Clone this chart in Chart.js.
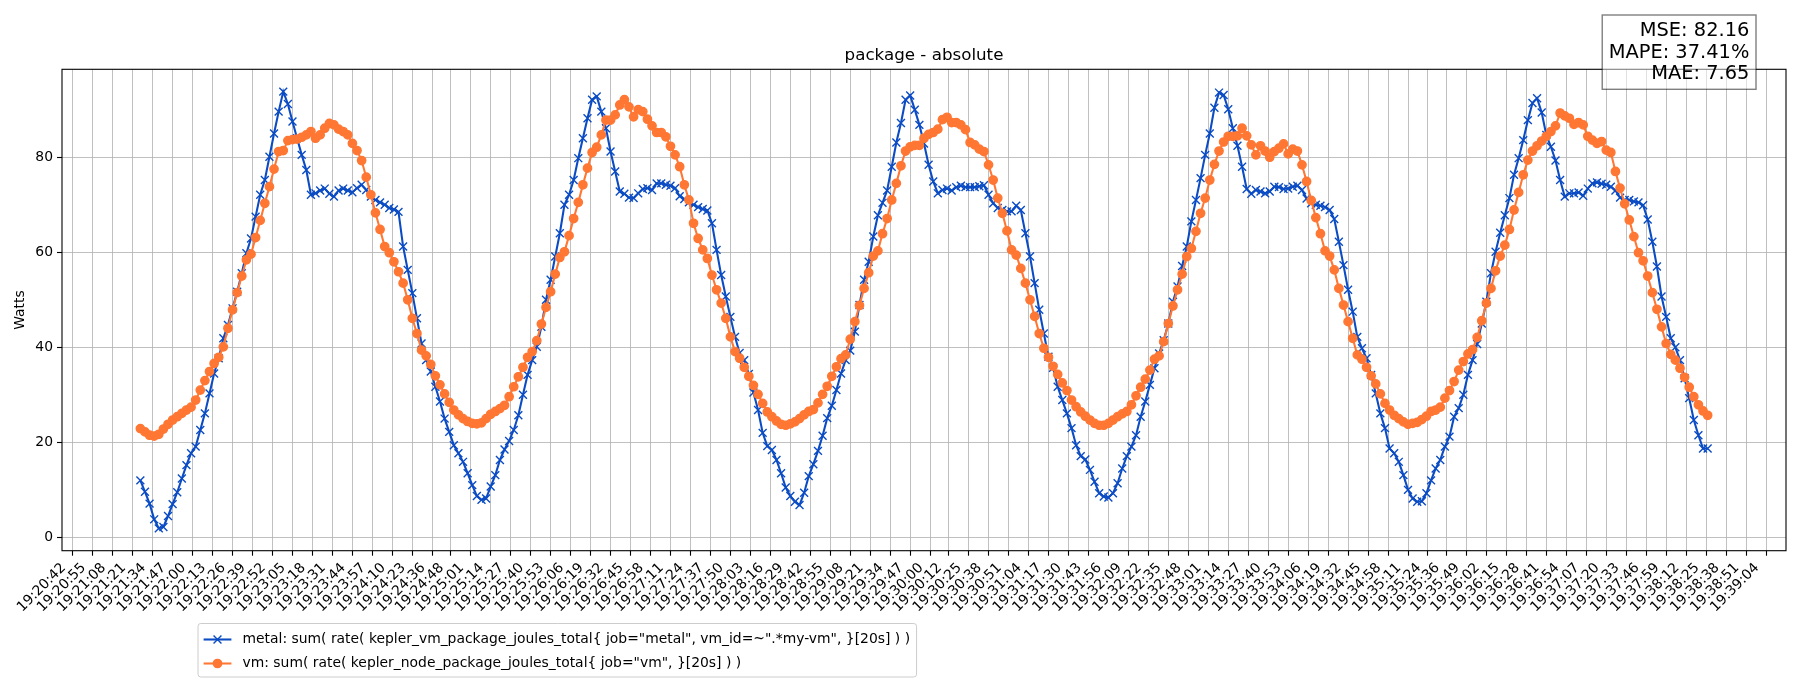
<!DOCTYPE html>
<html>
<head>
<meta charset="utf-8">
<script src="https://cdn.jsdelivr.net/npm/chart.js@4.4.1/dist/chart.umd.min.js"></script>
<style>
html, body { margin: 0; padding: 0; background: #ffffff; }
#wrap { position: relative; width: 1800px; height: 700px; }
</style>
</head>
<body>
<div id="wrap"><canvas id="c" width="1800" height="700" style="width:1800px;height:700px"></canvas></div>
<script>
const chartTitle = "package - absolute";
const yAxisLabel = "Watts";
const statsLines = ["MSE: 82.16", "MAPE: 37.41%", "MAE: 7.65"];
const metalLabel = 'metal: sum( rate( kepler_vm_package_joules_total{ job="metal", vm_id=~".*my-vm", }[20s] ) )';
const vmLabel = 'vm: sum( rate( kepler_node_package_joules_total{ job="vm", }[20s] ) )';

const tickLabels = [
  "19:20:42","19:20:55","19:21:08","19:21:21","19:21:34","19:21:47","19:22:00","19:22:13","19:22:26","19:22:39",
  "19:22:52","19:23:05","19:23:18","19:23:31","19:23:44","19:23:57","19:24:10","19:24:23","19:24:36","19:24:48",
  "19:25:01","19:25:14","19:25:27","19:25:40","19:25:53","19:26:06","19:26:19","19:26:32","19:26:45","19:26:58",
  "19:27:11","19:27:24","19:27:37","19:27:50","19:28:03","19:28:16","19:28:29","19:28:42","19:28:55","19:29:08",
  "19:29:21","19:29:34","19:29:47","19:30:00","19:30:12","19:30:25","19:30:38","19:30:51","19:31:04","19:31:17",
  "19:31:30","19:31:43","19:31:56","19:32:09","19:32:22","19:32:35","19:32:48","19:33:01","19:33:14","19:33:27",
  "19:33:40","19:33:53","19:34:06","19:34:19","19:34:32","19:34:45","19:34:58","19:35:11","19:35:24","19:35:36",
  "19:35:49","19:36:02","19:36:15","19:36:28","19:36:41","19:36:54","19:37:07","19:37:20","19:37:33","19:37:46",
  "19:37:59","19:38:12","19:38:25","19:38:38","19:38:51","19:39:04"
];
const yTicks = [0, 20, 40, 60, 80];
const yMin = -2.8;
const yMax = 98.5;

const sampleStart = "19:21:26";
const sampleStepSeconds = 3;

const metalValues = [
  12.0, 9.6, 7.1, 3.8, 1.9, 2.2, 4.5, 7.0, 9.5, 12.4,
  15.2, 17.7, 19.1, 22.6, 26.1, 30.3, 34.5, 37.7, 41.9, 44.7,
  48.2, 51.7, 55.6, 59.8, 62.9, 67.5, 72.1, 75.2, 80.1, 85.0,
  89.6, 93.8, 91.2, 87.5, 84.0, 80.5, 77.3,
  72.1, 72.4, 73.0, 73.4, 72.3, 71.7, 73.0, 73.4, 73.0, 72.6, 73.5, 74.2, 73.1, 71.7, 71.0, 70.5, 70.0, 69.3, 69.0,
  68.5, 61.2, 56.3, 51.4, 46.1, 40.8, 37.3, 34.9, 31.7, 28.6, 25.0, 22.2, 19.4, 17.7, 15.9, 13.5, 11.0, 8.7, 7.9, 8.2, 10.7,
  13.1, 16.3, 18.5, 20.3, 22.6, 25.7, 30.0, 34.2, 37.3, 40.1, 44.3, 50.0, 54.2, 59.1, 64.0, 70.0, 72.1, 75.2, 79.8, 84.0,
  88.2, 92.1, 92.8, 89.6, 86.1, 81.2, 77.0, 72.8, 72.3, 71.5, 71.4, 72.4, 73.3, 73.5, 73.1, 74.5,
  74.5, 74.2, 74.0, 73.5, 71.8, 71.2, 70.5, 70.0, 69.5, 69.1, 68.8, 66.1, 60.5, 55.2, 50.7, 46.4, 42.2, 38.8, 37.3, 34.4,
  30.5, 26.8, 22.0, 19.2, 18.4, 16.3, 13.5, 10.5, 8.7, 7.5, 6.8, 9.4, 12.9, 15.4, 18.2, 21.4, 25.1, 27.7, 31.0, 34.5,
  37.3, 39.3, 43.3, 48.9, 54.2, 58.0, 63.3, 67.8, 70.4, 73.0, 78.0, 83.1, 87.2, 92.1, 93.0, 90.0, 86.8, 82.9,
  78.4, 74.9, 72.4, 73.1, 73.4, 73.0, 73.7, 74.0, 73.7, 73.7, 73.7, 73.9, 74.1, 72.1, 70.3, 69.3, 68.9, 68.6, 68.6, 69.8,
  68.9, 64.0, 59.1, 53.5, 47.9, 42.9, 38.0, 35.7, 31.7, 28.9, 26.1, 23.0, 19.4, 17.1, 16.4, 14.2, 11.7, 9.3, 8.6, 8.4,
  9.3, 11.4, 14.5, 17.1, 19.1, 21.5, 25.4, 28.6, 32.1, 35.6, 38.7, 41.5, 45.0, 49.6, 52.8, 57.1, 61.2,
  66.5, 71.0, 75.6, 80.5, 85.0, 90.4, 93.6, 93.1, 90.1, 86.1, 82.4, 78.0, 73.3, 72.3, 73.1, 72.8, 72.4, 72.8, 73.8, 73.7,
  73.3, 73.4, 73.8, 74.0, 73.1, 71.3, 70.3, 70.0, 69.8, 69.5, 68.9, 67.0, 62.2, 57.3, 52.1, 47.5, 42.2, 39.8, 37.7, 34.2,
  30.3, 26.1, 23.0, 18.7, 17.7, 15.9, 13.1, 10.0, 8.2, 7.5, 7.6, 9.3, 12.0, 14.5, 16.3, 19.1, 21.2, 25.4,
  27.2, 30.0, 34.2, 37.3, 40.7, 45.0, 49.6, 55.6, 60.1, 64.1, 67.8, 71.4, 76.3, 79.8, 83.6, 87.8, 91.4, 92.4, 89.4, 84.7,
  82.2, 79.3, 75.2, 71.7, 72.4, 72.4, 72.6, 71.9, 73.4, 74.5, 74.7, 74.4, 74.2, 73.8, 73.0, 71.5, 71.0, 71.0, 70.7, 70.5,
  69.9, 66.9, 62.2, 57.0, 50.7, 46.4, 41.9, 40.0, 37.3, 33.5, 29.3, 24.7, 21.5, 18.7, 18.7
];

const vmValues = [
  22.9, 22.2, 21.5, 21.3, 21.7, 22.8, 23.8, 24.7, 25.4, 26.1,
  26.8, 27.4, 28.9, 31.0, 33.0, 34.9, 36.6, 37.9, 40.1, 44.0,
  47.9, 51.5, 55.0, 58.4, 59.6, 63.1, 66.7, 70.3, 73.8, 77.5,
  81.2, 81.4, 83.5, 83.7, 83.8, 84.2, 84.7, 85.4, 84.0, 84.7,
  86.1, 87.1, 86.8, 85.9, 85.4, 84.7, 82.9, 81.4, 79.3, 75.8,
  72.1, 68.3, 64.8, 61.2, 59.9,
  58.0, 55.9, 53.5, 50.0, 46.1, 42.9, 39.4, 38.2, 36.4, 34.0, 32.1, 30.2, 28.4, 26.8, 25.8, 25.0, 24.4, 24.0, 23.9, 24.1,
  25.0, 25.9, 26.5, 27.1, 27.8, 29.6, 31.7, 33.8, 35.8, 37.9, 39.1, 41.4, 44.9, 48.4, 51.7, 55.4, 58.9, 60.1, 63.5, 67.1,
  70.5, 74.2, 77.7, 81.0, 82.1, 84.7, 87.8, 87.8, 88.9, 91.0, 92.1, 90.6, 88.5, 90.0, 89.6, 88.0, 86.6, 85.2,
  85.2, 84.3, 82.3, 80.5, 78.0, 74.2, 71.0, 66.1, 62.9, 60.5, 58.7, 55.2, 52.1, 49.3, 46.1, 42.2, 39.1, 37.7, 35.8, 33.9,
  32.0, 30.1, 28.2, 26.4, 25.4, 24.5, 23.8, 23.6, 23.9, 24.3, 25.0, 25.8, 26.5, 26.9, 28.3, 30.1, 31.8, 33.9, 35.9, 37.6,
  38.4, 41.7, 45.4, 48.8, 52.4, 55.7, 59.2, 60.3, 63.9, 67.1, 71.0, 74.5, 78.2, 81.3, 82.2, 82.5, 82.5, 84.0,
  84.8, 85.2, 85.9, 87.9, 88.4, 87.3, 87.3, 86.8, 85.8, 83.1, 82.6, 81.7, 81.2, 78.4, 75.2, 71.4, 68.2, 64.5, 60.5, 59.4,
  56.6, 53.5, 50.0, 46.5, 42.9, 39.8, 37.9, 36.0, 34.3, 32.5, 30.9, 28.9, 27.5, 26.4, 25.5, 24.7, 24.0, 23.6, 23.6, 24.0,
  24.7, 25.4, 26.0, 26.5, 27.9, 29.8, 31.6, 33.3, 35.2, 37.5, 38.2, 41.2, 45.0, 48.7, 52.1, 55.4, 59.1,
  60.8, 64.4, 68.2, 71.4, 75.2, 78.5, 81.3, 83.2, 84.4, 84.4, 84.5, 86.1, 84.5, 82.6, 80.5, 82.4, 81.3, 80.0, 81.2, 81.9,
  82.8, 80.7, 81.7, 81.3, 78.4, 74.9, 70.9, 67.3, 63.9, 60.3, 59.2, 56.3, 52.4, 48.9, 45.4, 41.9, 38.4, 37.5, 35.8, 34.0,
  32.3, 30.2, 28.2, 26.8, 25.7, 25.0, 24.3, 23.8, 24.0, 24.2, 24.8, 25.5, 26.5, 26.8, 27.4, 29.3, 30.9, 32.8,
  35.2, 37.0, 38.6, 39.5, 42.1, 45.6, 49.3, 52.4, 56.1, 59.2, 61.5, 64.8, 68.9, 72.6, 76.3, 79.4, 81.3, 82.4, 83.4, 84.4,
  85.4, 86.6, 89.3, 88.7, 88.2, 86.9, 87.3, 86.8, 84.4, 83.6, 82.9, 83.3, 81.5, 81.0, 77.0, 73.5, 70.2, 66.8, 63.3, 59.9,
  58.2, 55.0, 51.5, 48.0, 44.3, 40.8, 38.5, 37.3, 35.6, 33.7, 31.6, 29.6, 27.9, 26.6, 25.7
];

const metalColor = "#0b4cc4";
const vmColor = "#ff7733";
const FONT = '"DejaVu Sans", "Liberation Sans", sans-serif';

function toSeconds(hms) {
  const p = hms.split(":").map(Number);
  return p[0] * 3600 + p[1] * 60 + p[2];
}
const t0 = toSeconds(sampleStart);
const metalPoints = metalValues.map((v, i) => ({ x: t0 + i * sampleStepSeconds, y: v }));
const vmPoints = vmValues.map((v, i) => ({ x: t0 + i * sampleStepSeconds, y: v }));
const tFirst = t0;
const tLast = t0 + (Math.max(metalValues.length, vmValues.length) - 1) * sampleStepSeconds;
const xPad = 0.05 * (tLast - tFirst);

function drawCross(ctx, x, y, r, color, lw) {
  ctx.save();
  ctx.strokeStyle = color; ctx.lineWidth = lw;
  const d = r * Math.SQRT1_2;
  ctx.beginPath();
  ctx.moveTo(x - d, y - d); ctx.lineTo(x + d, y + d);
  ctx.moveTo(x - d, y + d); ctx.lineTo(x + d, y - d);
  ctx.stroke();
  ctx.restore();
}
function drawDot(ctx, x, y, r, color, lw) {
  ctx.save();
  ctx.fillStyle = color; ctx.strokeStyle = color; ctx.lineWidth = lw;
  ctx.beginPath(); ctx.arc(x, y, r, 0, Math.PI * 2); ctx.fill(); ctx.stroke();
  ctx.restore();
}

const decor = {
  id: "decor",
  afterDatasetsDraw(chart) {
    const { ctx, chartArea: a } = chart;
    ctx.save();
    ctx.strokeStyle = "#000";
    ctx.lineWidth = 1.1;
    ctx.strokeRect(a.left, a.top, a.right - a.left, a.bottom - a.top);
    ctx.restore();
  },
  afterDraw(chart) {
    const { ctx, chartArea: a } = chart;
    ctx.save();
    // title
    ctx.fillStyle = "#000";
    ctx.font = "16.7px " + FONT;
    ctx.textAlign = "center";
    ctx.textBaseline = "alphabetic";
    ctx.fillText(chartTitle, (a.left + a.right) / 2, a.top - 9.5);

    // stats box
    ctx.font = "19.4px " + FONT;
    ctx.textAlign = "right";
    const textRight = 1749.3;
    const baselines = [36, 57.7, 79.4];
    const maxW = Math.max(...statsLines.map(s => ctx.measureText(s).width));
    const bx0 = textRight - maxW - 6.5, bx1 = textRight + 6.7, by0 = 15, by1 = 89.3;
    ctx.fillStyle = "rgba(255,255,255,0.5)";
    ctx.fillRect(bx0, by0, bx1 - bx0, by1 - by0);
    ctx.strokeStyle = "rgba(0,0,0,0.5)";
    ctx.lineWidth = 1.4;
    ctx.strokeRect(bx0, by0, bx1 - bx0, by1 - by0);
    ctx.fillStyle = "#000";
    statsLines.forEach((s, k) => ctx.fillText(s, textRight, baselines[k]));

    // legend
    ctx.font = "13.9px " + FONT;
    ctx.textAlign = "left";
    ctx.textBaseline = "middle";
    const ds = chart.data.datasets;
    const lx = 198, ly = 623.5, bh = 53.5;
    const hx0 = lx + 5.6, hx1 = hx0 + 27.8, tx = hx1 + 11.1;
    const tw = Math.max(...ds.map(d => ctx.measureText(d.label).width));
    const bw = tx - lx + tw + 6.5;
    const r = 2.8;
    ctx.beginPath();
    ctx.moveTo(lx + r, ly);
    ctx.lineTo(lx + bw - r, ly); ctx.arcTo(lx + bw, ly, lx + bw, ly + r, r);
    ctx.lineTo(lx + bw, ly + bh - r); ctx.arcTo(lx + bw, ly + bh, lx + bw - r, ly + bh, r);
    ctx.lineTo(lx + r, ly + bh); ctx.arcTo(lx, ly + bh, lx, ly + bh - r, r);
    ctx.lineTo(lx, ly + r); ctx.arcTo(lx, ly, lx + r, ly, r);
    ctx.closePath();
    ctx.fillStyle = "rgba(255,255,255,0.8)"; ctx.fill();
    ctx.strokeStyle = "#cccccc"; ctx.lineWidth = 1; ctx.stroke();
    ds.forEach((d, k) => {
      const cy = ly + 16 + k * 24;
      ctx.strokeStyle = d.borderColor; ctx.lineWidth = d.borderWidth;
      ctx.beginPath(); ctx.moveTo(hx0, cy); ctx.lineTo(hx1, cy); ctx.stroke();
      const cx = (hx0 + hx1) / 2;
      if (d.pointStyle === "crossRot") drawCross(ctx, cx, cy, d.pointRadius, d.borderColor, d.pointBorderWidth);
      else drawDot(ctx, cx, cy, d.pointRadius, d.borderColor, d.pointBorderWidth);
      ctx.fillStyle = "#000";
      ctx.fillText(d.label, tx, cy);
    });
    ctx.restore();
  }
};

Chart.defaults.font.family = FONT;
Chart.defaults.color = "#000";

new Chart(document.getElementById("c"), {
  type: "line",
  data: {
    datasets: [
      {
        label: metalLabel,
        data: metalPoints,
        borderColor: metalColor,
        backgroundColor: metalColor,
        borderWidth: 2.08,
        pointStyle: "crossRot",
        pointRadius: 5.6,
        pointBorderWidth: 1.4,
        pointBorderColor: metalColor,
        pointBackgroundColor: metalColor,
        tension: 0,
        fill: false,
        order: 1
      },
      {
        label: vmLabel,
        data: vmPoints,
        borderColor: vmColor,
        backgroundColor: vmColor,
        borderWidth: 2.08,
        pointStyle: "circle",
        pointRadius: 4.17,
        pointBorderWidth: 1.39,
        pointBorderColor: vmColor,
        pointBackgroundColor: vmColor,
        tension: 0,
        fill: false,
        order: 0
      }
    ]
  },
  options: {
    responsive: false,
    devicePixelRatio: 1,
    animation: false,
    events: [],
    layout: { padding: { top: 69.3, right: 14, left: 0, bottom: 0 } },
    plugins: { legend: { display: false }, tooltip: { enabled: false }, title: { display: false } },
    scales: {
      x: {
        type: "linear",
        min: tFirst - xPad,
        max: tLast + xPad,
        afterBuildTicks: (s) => { s.ticks = tickLabels.map(l => ({ value: toSeconds(l) })); },
        afterFit: (s) => { s.height = 700 - 550.7; },
        ticks: {
          autoSkip: false,
          minRotation: 45,
          maxRotation: 45,
          padding: 4,
          labelOffset: -9,
          color: "#000",
          font: { size: 13.9, family: FONT },
          callback: (v, i) => tickLabels[i]
        },
        grid: { color: "#b0b0b0", lineWidth: 0.8, drawTicks: true, tickLength: 5, tickColor: "#000", tickWidth: 1.1 },
        border: { display: false }
      },
      y: {
        type: "linear",
        min: yMin,
        max: yMax,
        afterBuildTicks: (s) => { s.ticks = yTicks.map(v => ({ value: v })); },
        afterFit: (s) => { s.width = 62; },
        ticks: {
          padding: 4,
          color: "#000",
          font: { size: 13.9, family: FONT },
          callback: (v) => String(v)
        },
        grid: { color: "#b0b0b0", lineWidth: 0.8, drawTicks: true, tickLength: 5, tickColor: "#000", tickWidth: 1.1 },
        border: { display: false },
        title: { display: true, text: yAxisLabel, color: "#000", font: { size: 13.9, family: FONT }, padding: { top: 11.7, bottom: 0 } }
      }
    }
  },
  plugins: [decor]
});
</script>
</body>
</html>
